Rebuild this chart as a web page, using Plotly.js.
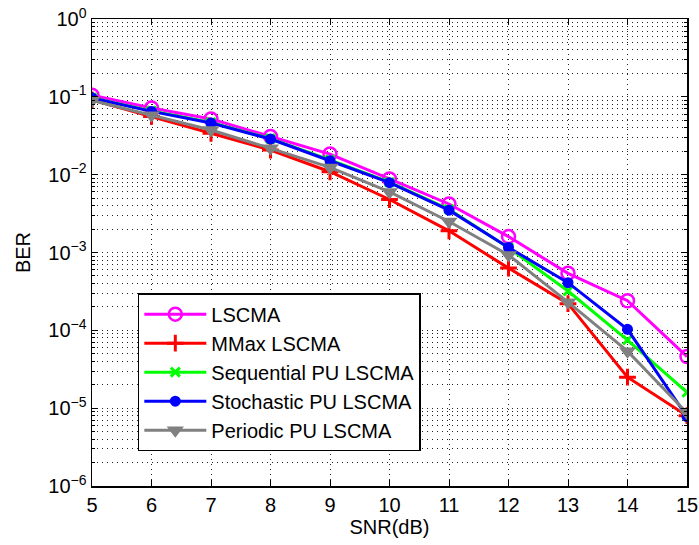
<!DOCTYPE html>
<html>
<head>
<meta charset="utf-8">
<script src="https://cdn.plot.ly/plotly-3.0.1.min.js"></script>
<style>html,body{margin:0;padding:0;background:#fff;}#chart{width:699px;height:545px;}</style>
</head>
<body>
<div id="chart"></div>
<script>
const snr = [5, 6, 7, 8, 9, 10, 11, 12, 13, 14, 15];
const berLSCMA      = [0.105, 0.072, 0.052, 0.031, 0.0184, 0.0088, 0.0042, 0.0016, 0.00054, 0.00024, 0.000046];
const berMMax       = [0.091, 0.056, 0.034, 0.0207, 0.0109, 0.0048, 0.0019, 0.00063, 0.00022, 0.000025, 0.0000080];
const berSequential = [0.097, 0.066, 0.047, 0.029, 0.0155, 0.0080, 0.0036, 0.00115, 0.00032, 0.000075, 0.000016];
const berStochastic = [0.097, 0.065, 0.046, 0.0287, 0.0151, 0.0079, 0.0035, 0.00116, 0.00041, 0.000103, 0.0000078];
const berPeriodic   = [0.090, 0.058, 0.0375, 0.0218, 0.0124, 0.0060, 0.0025, 0.00093, 0.00023, 0.000054, 0.0000087];
const seriesNames = ['LSCMA', 'MMax LSCMA', 'Sequential PU LSCMA', 'Stochastic PU LSCMA', 'Periodic PU LSCMA'];
const yTickVals = [1e-6, 1e-5, 1e-4, 1e-3, 1e-2, 1e-1, 1];
const yTickText = ['10<sup>−6</sup>', '10<sup>−5</sup>', '10<sup>−4</sup>', '10<sup>−3</sup>', '10<sup>−2</sup>', '10<sup>−1</sup>', '10<sup>0</sup>'];
const xTickVals = [5, 6, 7, 8, 9, 10, 11, 12, 13, 14, 15];

const mk = (name, y, color, marker) => ({
  x: snr, y: y, name: name, type: 'scatter', mode: 'lines+markers',
  line: {color: color, width: 3},
  marker: marker
});

const traces = [
  mk(seriesNames[0], berLSCMA, '#ff00ff', {symbol: 'circle-open', size: 13, color: '#ff00ff', line: {width: 2.5, color: '#ff00ff'}}),
  mk(seriesNames[1], berMMax, '#ff0000', {symbol: 'cross-thin', size: 12, color: '#ff0000', line: {width: 3, color: '#ff0000'}}),
  mk(seriesNames[2], berSequential, '#00ff00', {symbol: 'x-thin', size: 9, color: '#00ff00', line: {width: 3, color: '#00ff00'}}),
  mk(seriesNames[3], berStochastic, '#0000ff', {symbol: 'circle', size: 11, color: '#0000ff', line: {width: 0}}),
  mk(seriesNames[4], berPeriodic, '#808080', {symbol: 'triangle-down', size: 15, color: '#808080', line: {width: 0}})
];

const fam = 'Liberation Sans, Arial, sans-serif';
const gridDash = '1px,4px';
const gridCol = '#222';

const layout = {
  width: 699, height: 545,
  margin: {l: 92, r: 12, t: 19, b: 59},
  paper_bgcolor: '#fff', plot_bgcolor: '#fff',
  font: {family: fam, size: 20, color: '#000'},
  showlegend: true,
  legend: {
    x: 0.077, y: 0.413, xanchor: 'left', yanchor: 'top',
    bgcolor: '#fff', bordercolor: '#000', borderwidth: 1.5,
    font: {family: fam, size: 20, color: '#000'},
    itemwidth: 62, tracegroupgap: 0
  },
  xaxis: {
    range: [5, 15], tickvals: xTickVals, ticks: 'inside', ticklen: 6, tickcolor: '#000',
    showline: true, linecolor: '#000', linewidth: 1.5, mirror: 'ticks',
    showgrid: true, gridcolor: gridCol, griddash: gridDash, gridwidth: 1,
    zeroline: false,
    title: {text: 'SNR(dB)', standoff: 2, font: {size: 20}},
    tickfont: {size: 20}
  },
  yaxis: {
    type: 'log', range: [-6, 0], tickvals: yTickVals, ticktext: yTickText,
    ticks: 'inside', ticklen: 6, tickcolor: '#000',
    showline: true, linecolor: '#000', linewidth: 1.5, mirror: 'ticks',
    showgrid: true, gridcolor: gridCol, griddash: gridDash, gridwidth: 1,
    minor: {dtick: 'D1', ticks: 'inside', ticklen: 3, tickcolor: '#000', showgrid: true, gridcolor: gridCol, griddash: gridDash, gridwidth: 1},
    zeroline: false,
    title: {text: 'BER', standoff: 12, font: {size: 20}},
    tickfont: {size: 20}
  }
};

Plotly.newPlot('chart', traces, layout, {displayModeBar: false, staticPlot: true});
</script>
</body>
</html>
